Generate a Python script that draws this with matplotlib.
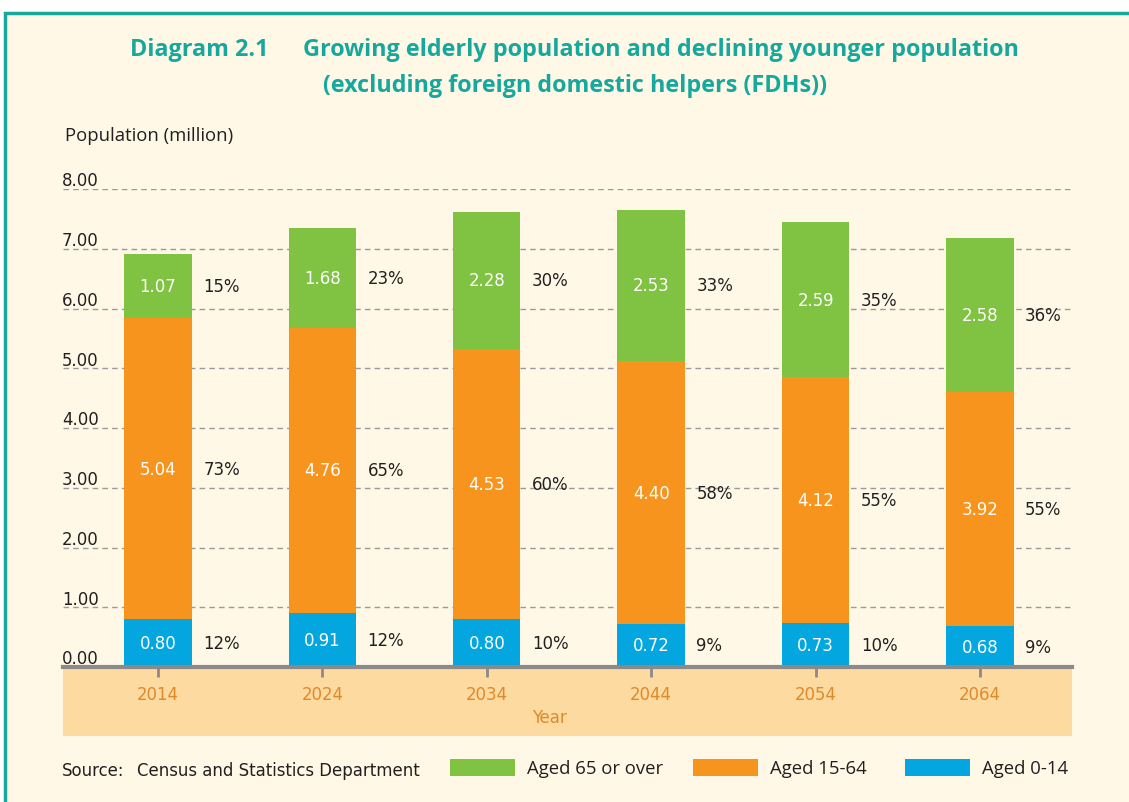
import matplotlib.pyplot as plt
import matplotlib.transforms as mtransforms
from matplotlib.patches import Rectangle
import numpy as np

# data
years = ["2014", "2024", "2034", "2044", "2054", "2064"]
aged_0_14 = [0.80, 0.91, 0.80, 0.72, 0.73, 0.68]
aged_15_64 = [5.04, 4.76, 4.53, 4.40, 4.12, 3.92]
aged_65_over = [1.07, 1.68, 2.28, 2.53, 2.59, 2.58]
pct_0_14 = ["12%", "12%", "10%", "9%", "10%", "9%"]
pct_15_64 = ["73%", "65%", "60%", "58%", "55%", "55%"]
pct_65_over = ["15%", "23%", "30%", "33%", "35%", "36%"]
yticks = [0, 1, 2, 3, 4, 5, 6, 7, 8]

GREEN = "#80C241"
ORANGE = "#F7941E"
BLUE = "#03A6DF"
TEAL = "#17A89D"
CREAM = "#FFF8E6"
BAND = "#FDDA9F"
DARK = "#231F20"
HUMAN = ["Open Sans", "DejaVu Sans"]
NARROW = dict(family="DejaVu Sans", fontstretch="condensed")
FS = 13.2

W, H = 1129, 803
fig = plt.figure(figsize=(W / 100, H / 100), dpi=100)
fig.patch.set_facecolor("white")


def fx(x):
    return x / W


def fy(y):
    return 1 - y / H


# cream panel with teal frame
fig.patches.append(Rectangle((fx(5), fy(810)), fx(1140), fy(14) - fy(810),
                             transform=fig.transFigure, facecolor=CREAM,
                             edgecolor=TEAL, linewidth=2.5, zorder=-5))

ax = fig.add_axes([fx(63), fy(668), fx(1072) - fx(63), fy(190) - fy(668)])
ax.set_facecolor("none")

x = np.arange(len(years))
bw = 0.41
b1 = np.array(aged_0_14)
b2 = b1 + np.array(aged_15_64)

ax.bar(x, aged_0_14, bw, color=BLUE, zorder=3)
ax.bar(x, aged_15_64, bw, bottom=b1, color=ORANGE, zorder=3)
ax.bar(x, aged_65_over, bw, bottom=b2, color=GREEN, zorder=3)

ax.set_xlim(-0.578, 5.56)
ax.set_ylim(0, 8)

# grid
for v in yticks[1:]:
    ax.axhline(v, color="#9A9A9A", lw=1, ls=(0, (4, 3)), zorder=1)

# y tick labels as text, sitting above the gridlines
trans = mtransforms.blended_transform_factory(ax.transAxes, ax.transData)
for v in yticks:
    ax.text(-0.001, v + 0.06, f"{v:.2f}", transform=trans, ha="left", va="baseline",
            fontsize=FS, color=DARK, **NARROW)
ax.set_yticks([])

# value labels and percentages
series = [(aged_0_14, np.zeros(6), pct_0_14),
          (aged_15_64, b1, pct_15_64),
          (aged_65_over, b2, pct_65_over)]
for vals, bottoms, pcts in series:
    for i in range(len(years)):
        yc = bottoms[i] + vals[i] / 2
        ax.text(x[i], yc, f"{vals[i]:.2f}", ha="center", va="center",
                fontsize=FS, color="white", zorder=4, **NARROW)
        ax.text(x[i] + 0.275, yc, pcts[i], ha="left", va="center",
                fontsize=FS, color=DARK, zorder=4, **NARROW)

# axes styling
for s in ["top", "right", "left"]:
    ax.spines[s].set_visible(False)
ax.spines["bottom"].set_color("#8A8A8A")
ax.spines["bottom"].set_linewidth(3)
ax.spines["bottom"].set_zorder(5)
ax.set_xticks(x)
ax.set_xticklabels(years, fontsize=FS, color="#E0892B", **NARROW)
ax.tick_params(axis="x", length=7, width=2, color="#8A8A8A", pad=6)

# band under the x axis
ax.add_patch(Rectangle((0, -0.1444), 1, 0.1444, transform=ax.transAxes,
                       facecolor=BAND, edgecolor="none", clip_on=False, zorder=0))
fig.text(fx(549), fy(718), "Year", ha="center", va="center", fontsize=FS,
         color="#E0892B", **NARROW)

# titles
fig.text(fx(130), fy(50), "Diagram 2.1", ha="left", va="center", fontsize=16.8,
         fontweight="bold", color=TEAL, family=HUMAN)
fig.text(fx(303), fy(50), "Growing elderly population and declining younger population",
         ha="left", va="center", fontsize=16.8, fontweight="bold", color=TEAL, family=HUMAN)
fig.text(fx(323), fy(86), "(excluding foreign domestic helpers (FDHs))",
         ha="left", va="center", fontsize=16.8, fontweight="bold", color=TEAL, family=HUMAN)
fig.text(fx(65), fy(136), "Population (million)", ha="left", va="center",
         fontsize=13.3, color=DARK, family=HUMAN)

# source and legend
fig.text(fx(62), fy(771), "Source:", ha="left", va="center", fontsize=FS,
         color=DARK, **NARROW)
fig.text(fx(137), fy(771), "Census and Statistics Department", ha="left", va="center",
         fontsize=FS, color=DARK, **NARROW)
legend_items = [("Aged 65 or over", GREEN, 450), ("Aged 15-64", ORANGE, 693),
                ("Aged 0-14", BLUE, 905)]
for label, col, px0 in legend_items:
    fig.patches.append(Rectangle((fx(px0), fy(777)), fx(65), fy(760) - fy(777),
                                 transform=fig.transFigure, facecolor=col,
                                 edgecolor="none", zorder=2))
    fig.text(fx(px0 + 77), fy(769), label, ha="left", va="center", fontsize=13.3,
             color=DARK, family=HUMAN)

fig.savefig("out.png", dpi=100)
